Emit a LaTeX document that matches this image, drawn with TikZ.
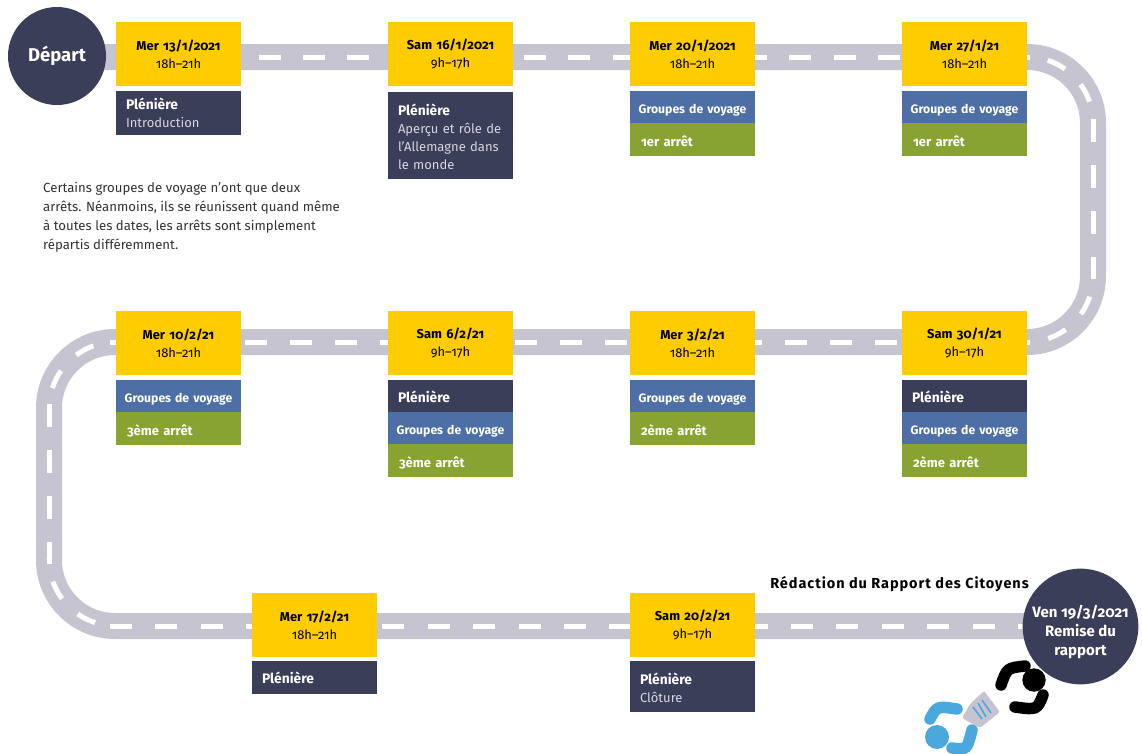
\documentclass[tikz,border=0pt]{standalone}
\usepackage{fontspec}
\setmainfont{Fira Sans}[Numbers=OldStyle]
\definecolor{navy}{HTML}{3B3E58}
\definecolor{sun}{HTML}{FFCC00}
\definecolor{route}{HTML}{C6C4D1}
\definecolor{voyage}{HTML}{4E6FA6}
\definecolor{arret}{HTML}{88A332}
\definecolor{sky}{HTML}{4BA8DC}
\definecolor{pale}{HTML}{D6D6DE}
\tikzset{
  boxbase/.style={anchor=north west,minimum width=125pt,inner sep=0pt,outer sep=0pt},
  datebox/.style={boxbase,fill=sun,minimum height=64pt,text width=125pt,align=center,font=\fontsize{12.9}{18}\selectfont},
  plenbox/.style={boxbase,fill=navy,text=pale,text width=105pt,align=left,font=\fontsize{13}{18}\selectfont},
  plenonly/.style={plenbox,text height=12.5pt,text depth=0pt},
  groupbox/.style={boxbase,fill=voyage,text=white,minimum height=32pt,text width=125pt,text height=12pt,text depth=0pt,align=center,font=\fontsize{12.2}{18}\selectfont\bfseries},
  arretbox/.style={boxbase,fill=arret,text=white,minimum height=33pt,text width=103pt,text height=13pt,text depth=0pt,align=left,font=\fontsize{13}{18}\selectfont\bfseries},
  roundel/.style={circle,fill=navy,text=white,inner sep=0pt,align=center},
  tiret/.style={white,line width=5pt},
  arm/.style={line width=11.5pt,line cap=round}
}
\newcommand{\plen}{\textcolor{white}{\fontsize{13.8}{18}\selectfont\textbf{Plénière}}}
\newcommand{\plenhaut}{\rule{0pt}{14pt}\plen}
\begin{document}
\begin{tikzpicture}[x=1pt,y=-1pt]
  \useasboundingbox (0,0) rectangle (1142,753);
  \coordinate (startroad) at (57,57);
  \coordinate (cornerA) at (1093,57);
  \coordinate (cornerB) at (1093,342);
  \coordinate (cornerC) at (49,342);
  \coordinate (cornerD) at (49,626);
  \coordinate (endroad) at (1080,626);
  % la route
  \draw[route,line width=26pt,rounded corners=66pt] (startroad) -- (cornerA) -- (cornerB) -- (cornerC) -- (cornerD) -- (endroad);
  \draw[tiret,dash pattern=on 22pt off 22.2pt] (259,57) -- (1030,57);
  \draw[tiret,dash pattern=on 19.5pt off 22pt,dash phase=20.5pt] (1027,57) .. controls (1063.4,57) and (1093,86.6) .. (1093,123);
  \draw[tiret,dash pattern=on 23pt off 23pt] (1093,119) -- (1093,279);
  \draw[tiret,dash pattern=on 19.5pt off 22pt,dash phase=20.5pt] (1093,276) .. controls (1093,312.4) and (1063.4,342) .. (1027,342);
  \draw[tiret,dash pattern=on 22pt off 23pt] (110,342) -- (1030,342);
  \draw[tiret,dash pattern=on 19.5pt off 22pt,dash phase=18.5pt] (116,342) .. controls (79,342) and (49,372) .. (49,409);
  \draw[tiret,dash pattern=on 23pt off 23pt] (49,404) -- (49,564);
  \draw[tiret,dash pattern=on 19.5pt off 22pt,dash phase=18.5pt] (49,559) .. controls (49,596) and (79,626) .. (116,626);
  \draw[tiret,dash pattern=on 22pt off 23.4pt] (110,626) -- (1030,626);
  % ronds
  \node[roundel,minimum size=98pt,font=\fontsize{18.5}{20}\selectfont\bfseries] (depart) at (57,56) {Départ};
  \node[roundel,minimum size=113pt,font=\fontsize{15}{19}\selectfont\bfseries] (remise) at (1080.5,626.5) {\rule{0pt}{23pt}Ven 19/3/2021\\Remise du\\rapport};
  % ligne 1
  \node[datebox] (dateA) at (116,22) {\textbf{Mer 13/1/2021}\\18h–21h};
  \node[plenbox,minimum height=44pt] (plenA) at (116,91) {\plen\\Introduction};
  \node[datebox] (dateB) at (388,22) {\textbf{Sam 16/1/2021}\\9h–17h};
  \node[plenbox,minimum height=87pt] (plenB) at (388,92) {\plenhaut\\Aperçu et rôle de\\l’Allemagne dans\\le monde};
  \node[datebox] (dateC) at (630,22) {\textbf{Mer 20/1/2021}\\18h–21h};
  \node[groupbox] (groupC) at (630,91) {Groupes de voyage};
  \node[arretbox] (arretC) at (630,123) {1er arrêt};
  \node[datebox] (dateD) at (902,22) {\textbf{Mer 27/1/21}\\18h–21h};
  \node[groupbox] (groupD) at (902,91) {Groupes de voyage};
  \node[arretbox] (arretD) at (902,123) {1er arrêt};
  % texte
  \node[anchor=north west,inner sep=0pt,text=black!80,align=left,font=\fontsize{13.2}{19}\selectfont] (note) at (43,182) {Certains groupes de voyage n’ont que deux\\arrêts. Néanmoins, ils se réunissent quand même\\à toutes les dates, les arrêts sont simplement\\répartis différemment.};
  % ligne 2
  \node[datebox] (dateE) at (116,311) {\textbf{Mer 10/2/21}\\18h–21h};
  \node[groupbox] (groupE) at (116,380) {Groupes de voyage};
  \node[arretbox] (arretE) at (116,412) {3ème arrêt};
  \node[datebox] (dateF) at (388,311) {\textbf{Sam 6/2/21}\\9h–17h};
  \node[plenonly,minimum height=32pt] (plenF) at (388,380) {\plen};
  \node[groupbox] (groupF) at (388,412) {Groupes de voyage};
  \node[arretbox] (arretF) at (388,444) {3ème arrêt};
  \node[datebox] (dateG) at (630,311) {\textbf{Mer 3/2/21}\\18h–21h};
  \node[groupbox] (groupG) at (630,380) {Groupes de voyage};
  \node[arretbox] (arretG) at (630,412) {2ème arrêt};
  \node[datebox] (dateH) at (902,311) {\textbf{Sam 30/1/21}\\9h–17h};
  \node[plenonly,minimum height=32pt] (plenH) at (902,380) {\plen};
  \node[groupbox] (groupH) at (902,412) {Groupes de voyage};
  \node[arretbox] (arretH) at (902,444) {2ème arrêt};
  % ligne 3
  \node[datebox] (dateI) at (252,593) {\textbf{Mer 17/2/21}\\18h–21h};
  \node[plenonly,minimum height=33pt] (plenI) at (252,661) {\plen};
  \node[datebox] (dateJ) at (630,593) {\textbf{Sam 20/2/21}\\9h–17h};
  \node[plenbox,minimum height=51pt] (plenJ) at (630,661) {\plenhaut\\Clôture};
  \node[anchor=east,inner sep=0pt,font=\fontsize{14.5}{18}\selectfont\bfseries\addfontfeature{LetterSpace=6.5}] (redaction) at (1029,584) {Rédaction du Rapport des Citoyens};
  % les deux personnages
  \fill[black] (1034,680) circle (11.7);
  \draw[arm,black] (1001,685) .. controls (1007,668) .. (1025,666);
  \draw[arm,black] (1015,707) .. controls (1037,710) .. (1043,695);
  \fill[sky] (937,737) circle (12);
  \draw[arm,sky] (930,719) .. controls (937,706) .. (957,709);
  \draw[arm,sky] (952,748) .. controls (967,750) .. (972,730);
  \fill[route,rounded corners=2pt] (970,704) -- (984,691) -- (1000,712) -- (980,728) -- (962,718) -- cycle;
  \draw[sky,line width=1.6pt] (973,707) -- (982,719);
  \draw[sky,line width=1.6pt] (978,703) -- (986,717);
  \draw[sky,line width=1.6pt] (982,700) -- (991,713);
\end{tikzpicture}
\end{document}
